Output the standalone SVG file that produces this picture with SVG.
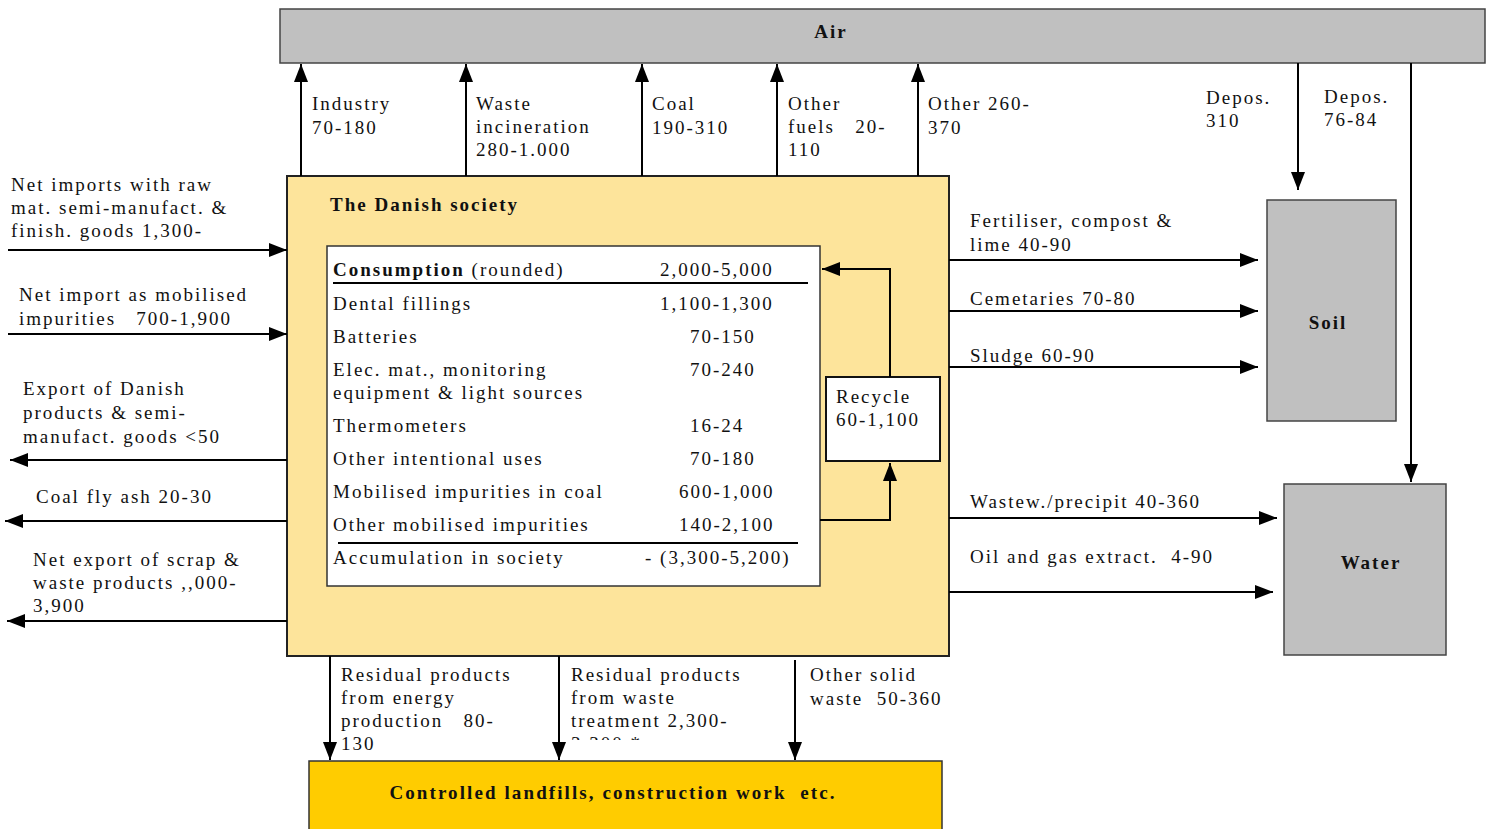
<svg xmlns="http://www.w3.org/2000/svg" width="1492" height="829" viewBox="0 0 1492 829">
<style>
text{font-family:"Liberation Serif","Times New Roman",serif;font-size:19px;letter-spacing:2px;fill:#111;white-space:pre}
.b{font-weight:bold}
.box{stroke:#222;stroke-width:2}
.grey{fill:#c0c0c0;stroke:#444;stroke-width:1.5}
.ln{stroke:#000;stroke-width:2;fill:none}
.arr{stroke:#000;stroke-width:2;fill:none;marker-end:url(#ah)}
</style>
<defs>
<marker id="ah" markerUnits="userSpaceOnUse" markerWidth="20" markerHeight="16" refX="18" refY="7" orient="auto">
<path d="M0,0 L18,7 L0,14 Z" fill="#000"/>
</marker>
<clipPath id="cut"><rect x="560" y="660" width="240" height="80"/></clipPath>
</defs>
<rect width="1492" height="829" fill="#fff"/>

<g id="air">
<rect class="grey" x="280" y="9" width="1205" height="54"/>
<text class="b" x="831" y="38" text-anchor="middle">Air</text>
</g>

<g id="society">
<rect class="box" x="287" y="176" width="662" height="480" fill="#fde49b"/>
<text class="b" x="330" y="211">The Danish society</text>
</g>

<g id="table">
<rect x="327" y="246" width="493" height="340" fill="#fff" stroke="#333" stroke-width="1.5"/>
<text x="333" y="276"><tspan class="b">Consumption</tspan> (rounded)</text>
<text x="660" y="276">2,000-5,000</text>
<line x1="333" y1="283" x2="808" y2="283" class="ln"/>
<text x="333" y="310">Dental fillings</text><text x="660" y="310">1,100-1,300</text>
<text x="333" y="343">Batteries</text><text x="690" y="343">70-150</text>
<text x="333" y="376">Elec. mat., monitoring</text><text x="690" y="376">70-240</text>
<text x="333" y="399">equipment &amp; light sources</text>
<text x="333" y="432">Thermometers</text><text x="690" y="432">16-24</text>
<text x="333" y="465">Other intentional uses</text><text x="690" y="465">70-180</text>
<text x="333" y="498">Mobilised impurities in coal</text><text x="679" y="498">600-1,000</text>
<text x="333" y="531">Other mobilised impurities</text><text x="679" y="531">140-2,100</text>
<line x1="338" y1="543" x2="798" y2="543" class="ln"/>
<text x="333" y="564">Accumulation in society</text><text x="645" y="564">- (3,300-5,200)</text>
</g>

<g id="recycle">
<rect x="826" y="377" width="114" height="84" fill="#fff" stroke="#111" stroke-width="2"/>
<text x="836" y="403">Recycle</text>
<text x="836" y="426">60-1,100</text>
</g>

<g id="soil">
<rect class="grey" x="1267" y="200" width="129" height="221"/>
<text class="b" x="1328" y="329" text-anchor="middle">Soil</text>
</g>

<g id="water">
<rect class="grey" x="1284" y="484" width="162" height="171"/>
<text class="b" x="1371" y="569" text-anchor="middle">Water</text>
</g>

<g id="landfill">
<rect x="309" y="761" width="633" height="72" fill="#ffcc00" stroke="#333" stroke-width="1.5"/>
<text class="b" x="613" y="799" text-anchor="middle" style="letter-spacing:2.1px">Controlled landfills, construction work  etc.</text>
</g>

<g id="connectors">
<line class="arr" x1="301" y1="176" x2="301" y2="64"/>
<line class="arr" x1="466" y1="176" x2="466" y2="64"/>
<line class="arr" x1="642" y1="176" x2="642" y2="64"/>
<line class="arr" x1="777" y1="176" x2="777" y2="64"/>
<line class="arr" x1="918" y1="176" x2="918" y2="64"/>
<line class="arr" x1="1298" y1="63" x2="1298" y2="190"/>
<line class="arr" x1="1411" y1="63" x2="1411" y2="482"/>
<line class="arr" x1="8" y1="250" x2="287" y2="250"/>
<line class="arr" x1="8" y1="334" x2="287" y2="334"/>
<line class="arr" x1="287" y1="460" x2="10" y2="460"/>
<line class="arr" x1="287" y1="521" x2="5" y2="521"/>
<line class="arr" x1="287" y1="621" x2="7" y2="621"/>
<line class="arr" x1="949" y1="260" x2="1258" y2="260"/>
<line class="arr" x1="949" y1="311" x2="1258" y2="311"/>
<line class="arr" x1="949" y1="367" x2="1258" y2="367"/>
<line class="arr" x1="949" y1="518" x2="1277" y2="518"/>
<line class="arr" x1="949" y1="592" x2="1273" y2="592"/>
<line class="arr" x1="330" y1="656" x2="330" y2="760"/>
<line class="arr" x1="559" y1="656" x2="559" y2="760"/>
<line class="arr" x1="795" y1="660" x2="795" y2="760"/>
<polyline class="arr" points="820,520 890,520 890,463"/>
<polyline class="arr" points="890,377 890,269 822,269"/>
</g>

<g id="labels">
<text x="11" y="191">Net imports with raw</text>
<text x="11" y="214">mat. semi-manufact. &amp;</text>
<text x="11" y="237">finish. goods 1,300-</text>
<text x="19" y="301">Net import as mobilised</text>
<text x="19" y="325">impurities   700-1,900</text>
<text x="23" y="395">Export of Danish</text>
<text x="23" y="419">products &amp; semi-</text>
<text x="23" y="443">manufact. goods &lt;50</text>
<text x="36" y="503">Coal fly ash 20-30</text>
<text x="33" y="566">Net export of scrap &amp;</text>
<text x="33" y="589">waste products ,,000-</text>
<text x="33" y="612">3,900</text>

<text x="312" y="110">Industry</text>
<text x="312" y="134">70-180</text>
<text x="476" y="110">Waste</text>
<text x="476" y="133">incineration</text>
<text x="476" y="156">280-1.000</text>
<text x="652" y="110">Coal</text>
<text x="652" y="134">190-310</text>
<text x="788" y="110">Other</text>
<text x="788" y="133">fuels   20-</text>
<text x="788" y="156">110</text>
<text x="928" y="110">Other 260-</text>
<text x="928" y="134">370</text>
<text x="1206" y="104">Depos.</text>
<text x="1206" y="127">310</text>
<text x="1324" y="103">Depos.</text>
<text x="1324" y="126">76-84</text>

<text x="970" y="227">Fertiliser, compost &amp;</text>
<text x="970" y="251">lime 40-90</text>
<text x="970" y="305">Cemetaries 70-80</text>
<text x="970" y="362">Sludge 60-90</text>
<text x="970" y="508">Wastew./precipit 40-360</text>
<text x="970" y="563">Oil and gas extract.  4-90</text>

<text x="341" y="681">Residual products</text>
<text x="341" y="704">from energy</text>
<text x="341" y="727">production   80-</text>
<text x="341" y="750">130</text>
<text x="571" y="681">Residual products</text>
<text x="571" y="704">from waste</text>
<text x="571" y="727">treatment 2,300-</text>
<text x="571" y="750" clip-path="url(#cut)">3,300 *</text>
<text x="810" y="681">Other solid</text>
<text x="810" y="705">waste  50-360</text>
</g>
</svg>
